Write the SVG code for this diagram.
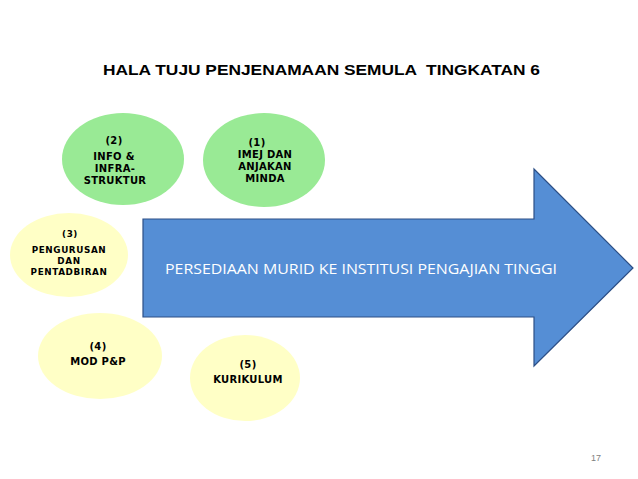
<svg xmlns="http://www.w3.org/2000/svg" width="638" height="479" viewBox="0 0 638 479">
<style>
.g{fill:#99ea95}
.y{fill:#ffffc6}
.t{font-family:"DejaVu Sans",Verdana,sans-serif;font-weight:bold;font-size:10px;fill:#000;text-anchor:middle;letter-spacing:0.3px}
.ts{font-family:"DejaVu Sans",Verdana,sans-serif;font-weight:bold;font-size:8.8px;fill:#000;text-anchor:middle;letter-spacing:0.6px}
</style>
<rect width="638" height="479" fill="#ffffff"/>
<text x="103" y="75" font-family="Liberation Sans, Arial, sans-serif" font-weight="bold" font-size="15.5" fill="#000" textLength="437" lengthAdjust="spacingAndGlyphs" xml:space="preserve">HALA TUJU PENJENAMAAN SEMULA  TINGKATAN 6</text>
<g id="arrow">
<polygon points="143,219 534,219 534,169 633,268 534,366 534,317 143,317" fill="#558ed5" stroke="#2c4f86" stroke-width="1.2"/>
<text x="165" y="274" font-family="Open Sans, Liberation Sans, sans-serif" font-size="14" fill="#ffffff" textLength="392" lengthAdjust="spacingAndGlyphs">PERSEDIAAN MURID KE INSTITUSI PENGAJIAN TINGGI</text>
</g>
<g id="node2">
<ellipse class="g" cx="123" cy="159" rx="61" ry="46"/>
<text class="t" x="114" y="144">(2)</text>
<text class="t" x="114" y="160">INFO &amp;</text>
<text class="t" x="115" y="172">INFRA-</text>
<text class="t" x="115" y="184">STRUKTUR</text>
</g>
<g id="node1">
<ellipse class="g" cx="264" cy="160" rx="61" ry="47"/>
<text class="t" x="257" y="146">(1)</text>
<text class="t" x="265" y="158">IMEJ DAN</text>
<text class="t" x="265" y="170">ANJAKAN</text>
<text class="t" x="265" y="182">MINDA</text>
</g>
<g id="node3">
<ellipse class="y" cx="69" cy="255" rx="59" ry="42"/>
<text class="ts" x="70" y="237">(3)</text>
<text class="ts" x="69" y="253">PENGURUSAN</text>
<text class="ts" x="69" y="264">DAN</text>
<text class="ts" x="69" y="275">PENTADBIRAN</text>
</g>
<g id="node4">
<ellipse class="y" cx="100" cy="356" rx="62" ry="43"/>
<text class="t" x="98" y="350">(4)</text>
<text class="t" x="98" y="365">MOD P&amp;P</text>
</g>
<g id="node5">
<ellipse class="y" cx="245" cy="378" rx="55" ry="43"/>
<text class="t" x="248" y="368">(5)</text>
<text class="t" x="248" y="383">KURIKULUM</text>
</g>
<g id="connectors"></g>
<text x="596" y="461" font-family="Liberation Sans, Arial, sans-serif" font-size="9" fill="#7f7f7f" text-anchor="middle">17</text>
</svg>
